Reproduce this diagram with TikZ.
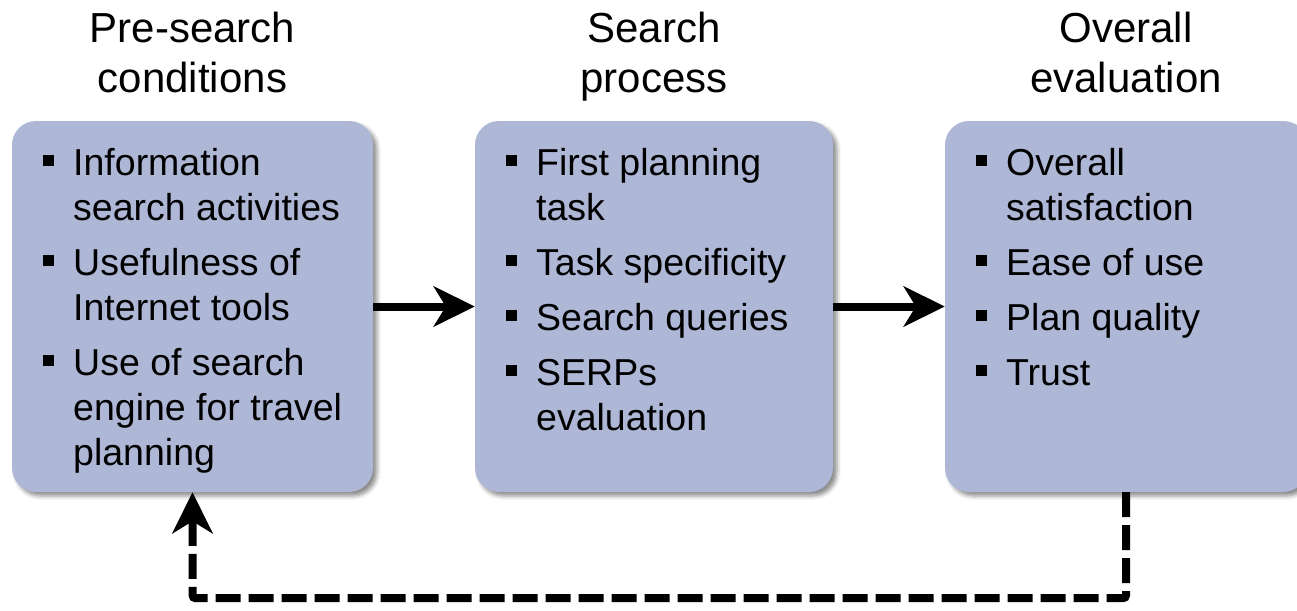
\documentclass[tikz,border=0pt]{standalone}
\usepackage{fontspec}
\setmainfont{Liberation Sans}
\usetikzlibrary{arrows.meta,shadows.blur}
\definecolor{boxfill}{RGB}{174,183,214}
\tikzset{
  stage/.style={draw=none, fill=boxfill, rounded corners=24pt, minimum width=#1, minimum height=371pt, inner sep=0pt,
    blur shadow={shadow xshift=4pt, shadow yshift=-4pt, shadow blur radius=4pt, shadow opacity=45}},
  title/.style={align=center, font=\fontsize{42}{50}\selectfont, inner sep=0pt, anchor=base},
  item/.style={align=left, font=\fontsize{37.5}{45}\selectfont, inner sep=0pt, anchor=base west},
  flow/.style={line width=8pt, -{Stealth[length=41pt,width=40pt,inset=12pt]}},
  feedback/.style={flow, dash pattern=on 25pt off 8pt, rounded corners=3pt}
}
\newcommand{\bul}{\llap{\rule[9pt]{11pt}{11pt}\hspace{19pt}}}
\begin{document}
\begin{tikzpicture}[x=1pt,y=-1pt]
\useasboundingbox (0,0) rectangle (1297,610);
% boxes
\node[stage=361pt] (b1) at (192.5,306.5) {};
\node[stage=358pt] (b2) at (654,306.5) {};
\node[stage=362pt] (b3) at (1126,306.5) {};
% titles (base = baseline of last line)
\node[title] (t1) at (192.5,92) {Pre-search\\conditions};
\node[title] (t2) at (654,92) {Search\\process};
\node[title] (t3) at (1126,92) {Overall\\evaluation};
% items box 1
\node[item] (i11) at (73,220) {\bul Information\\search activities};
\node[item] (i12) at (73,320) {\bul Usefulness of\\Internet tools};
\node[item] (i13) at (73,465) {\bul Use of search\\engine for travel\\planning};
% items box 2
\node[item] (i21) at (536,220) {\bul First planning\\task};
\node[item] (i22) at (536,275) {\bul Task specificity};
\node[item] (i23) at (536,330) {\bul Search queries};
\node[item] (i24) at (536,430) {\bul SERPs\\evaluation};
% items box 3
\node[item] (i31) at (1006,220) {\bul Overall\\satisfaction};
\node[item] (i32) at (1006,275) {\bul Ease of use};
\node[item] (i33) at (1006,330) {\bul Plan quality};
\node[item] (i34) at (1006,385) {\bul Trust};
% connectors
\draw[flow] (b1.east) -- (b2.west);
\draw[flow] (b2.east) -- (b3.west);
\draw[feedback] (b3.south) -- ++(0,106) -| (b1.south);
\end{tikzpicture}
\end{document}
